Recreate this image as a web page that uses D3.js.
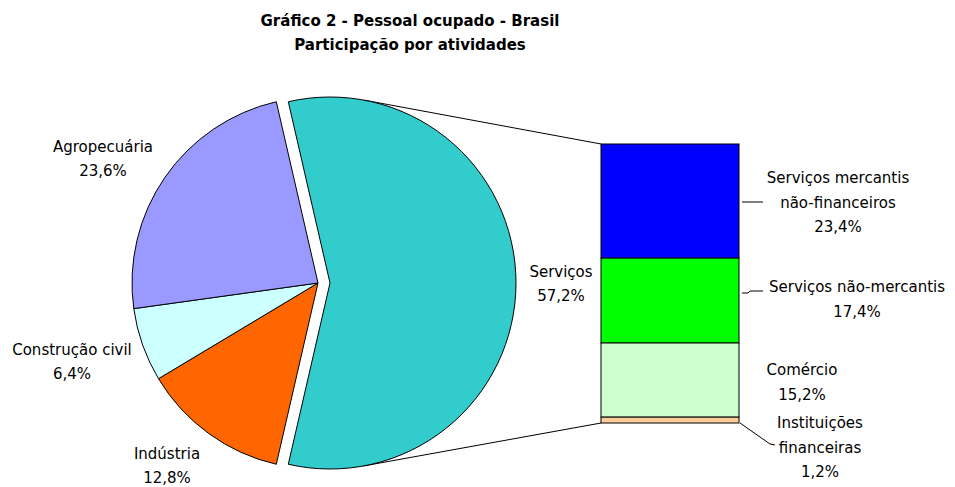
<!DOCTYPE html>
<html>
<head>
<meta charset="utf-8">
<script src="https://d3js.org/d3.v7.min.js"></script>
<style>
  body { margin: 0; background: #fff; }
  text { font-family: "DejaVu Sans", Verdana, sans-serif; font-size: 15px; fill: #000; }
  .title { font-weight: bold; font-size: 15px; }
</style>
</head>
<body>
<div id="chart"></div>
<script>
// pie: Serviços is split out into the bar
var pieNames  = ["Serviços", "Indústria", "Construção civil", "Agropecuária"];
var pieValues = [57.2, 12.8, 6.4, 23.6];
var pieColors = ["#33CCCC", "#FF6600", "#CCFFFF", "#9999FF"];

// bar: breakdown of Serviços, top to bottom
var barNames  = ["Serviços mercantis\nnão-financeiros", "Serviços não-mercantis", "Comércio", "Instituições\nfinanceiras"];
var barValues = [23.4, 17.4, 15.2, 1.2];
var barColors = ["#0000FF", "#00FF00", "#CCFFCC", "#FFCC99"];

var titleLines = ["Gráfico 2 - Pessoal ocupado - Brasil", "Participação por atividades"];

function fmt(v){ return d3.format(".1f")(v).replace(".", ",") + "%"; }

var width = 955, height = 487;
var svg = d3.select("#chart").append("svg")
    .attr("width", width).attr("height", height);

// title
svg.selectAll(".title").data(titleLines).enter().append("text")
    .attr("class", "title")
    .attr("x", 410)
    .attr("y", function(d, i){ return 26 + i * 24; })
    .attr("text-anchor", "middle")
    .text(function(d){ return d; });

var cx = 318, cy = 283, r = 186, explode = 12;
var total = d3.sum(pieValues);
var split = pieValues[0] / total;

var pie = d3.pie().sort(null)
    .startAngle(Math.PI / 2 - split * Math.PI)
    .endAngle(Math.PI / 2 - split * Math.PI + 2 * Math.PI);
var arcs = pie(pieValues);
var arc = d3.arc().innerRadius(0).outerRadius(r);

// bar geometry
var barX0 = 601, barX1 = 739;
var y = d3.scaleLinear().domain([0, pieValues[0]]).range([144, 423]);

// series lines: tangent from bar corners to exploded slice (drawn behind it)
var scx = cx + explode, scy = cy;
function tangent(px, py, sign){
    var dx = px - scx, dy = py - scy;
    var d = Math.sqrt(dx*dx + dy*dy);
    var a = Math.atan2(dy, dx) + sign * Math.acos(r / d);
    return [scx + r * Math.cos(a), scy + r * Math.sin(a)];
}
var corners = [[barX0, y(0), -1], [barX0, y(pieValues[0]), 1]];
svg.selectAll(".series-line").data(corners).enter().append("line")
    .attr("class", "series-line")
    .attr("x1", function(d){ return tangent(d[0], d[1], d[2])[0]; })
    .attr("y1", function(d){ return tangent(d[0], d[1], d[2])[1]; })
    .attr("x2", function(d){ return d[0]; })
    .attr("y2", function(d){ return d[1]; })
    .attr("stroke", "#000").attr("stroke-width", 1);

var g = svg.append("g").attr("transform", "translate(" + cx + "," + cy + ")");
g.selectAll("path").data(arcs).enter().append("path")
    .attr("d", arc)
    .attr("transform", function(d, i){ return i === 0 ? "translate(" + explode + ",0)" : null; })
    .attr("fill", function(d, i){ return pieColors[i]; })
    .attr("stroke", "#000").attr("stroke-width", 1).attr("stroke-linejoin", "round");

// pie labels
var pieLabelPos = [[561, 272], [167, 454], [72, 350], [103, 147]];
pieNames.forEach(function(name, i){
    var t = svg.append("text").attr("text-anchor", "middle");
    t.append("tspan").attr("x", pieLabelPos[i][0]).attr("y", pieLabelPos[i][1] + 5).text(name);
    t.append("tspan").attr("x", pieLabelPos[i][0]).attr("y", pieLabelPos[i][1] + 29).text(fmt(pieValues[i]));
});

// stacked bar
var cum = 0;
var segs = barValues.map(function(v){ var s = {y0: cum, y1: cum + v}; cum += v; return s; });
svg.selectAll(".seg").data(segs).enter().append("rect")
    .attr("class", "seg")
    .attr("x", barX0).attr("width", barX1 - barX0)
    .attr("y", function(d){ return y(d.y0); })
    .attr("height", function(d){ return y(d.y1) - y(d.y0); })
    .attr("fill", function(d, i){ return barColors[i]; })
    .attr("stroke", "#000").attr("stroke-width", 1);

// bar labels and leader lines
var barLabelPos = [[838, 178], [857, 287], [802, 370], [820, 423]];
var leaders = [
    [[742, 202], [763, 202]],
    [[742, 293], [748, 293], [750, 291], [763, 291]],
    null,
    [[740, 423], [770, 444], [775, 445]]
];
barNames.forEach(function(name, i){
    var lines = name.split("\n").concat([fmt(barValues[i])]);
    var t = svg.append("text").attr("text-anchor", "middle");
    lines.forEach(function(l, j){
        t.append("tspan").attr("x", barLabelPos[i][0])
            .attr("y", barLabelPos[i][1] + 5 + j * 24.5).text(l);
    });
    if (leaders[i]) {
        svg.append("path")
            .attr("d", d3.line()(leaders[i]))
            .attr("fill", "none").attr("stroke", "#000").attr("stroke-width", 1);
    }
});
</script>
</body>
</html>
